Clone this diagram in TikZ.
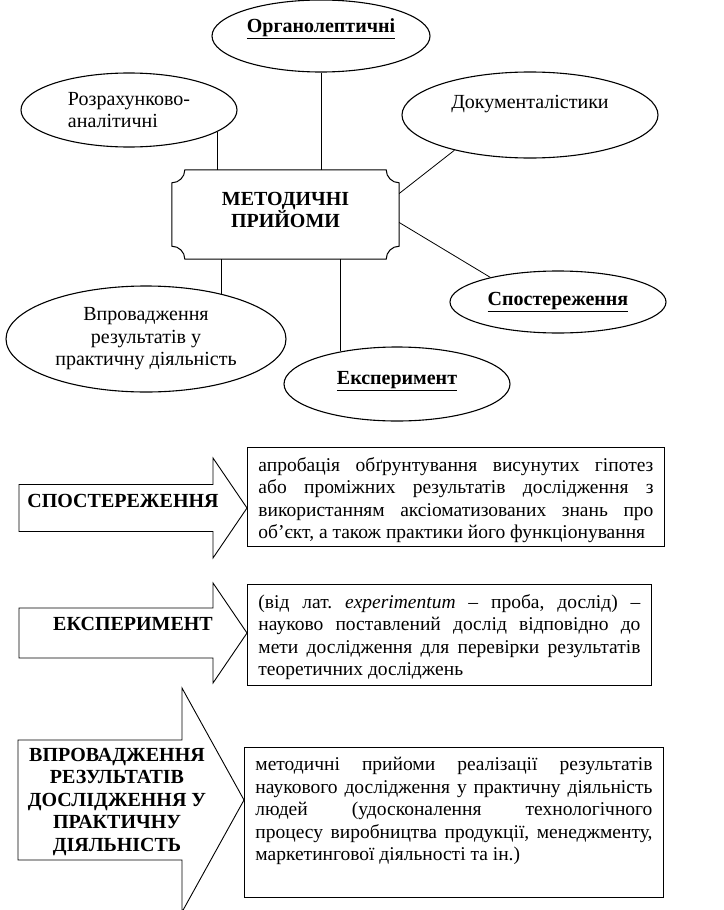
\documentclass[tikz,border=0pt]{standalone}
\usepackage{fontspec}
\setmainfont{Liberation Serif}
\usetikzlibrary{shapes.geometric}
\frenchspacing
\def\fs{\fontsize{20}{22.5}\selectfont}
\def\fd{\fontsize{19.5}{22.5}\selectfont}
\tikzset{
  oval/.style={draw,ellipse,line width=1.1pt,inner sep=0pt,font=\fs,align=center},
  link/.style={line width=0.8pt},
  descbox/.style={draw,line width=0.9pt,inner xsep=11pt,inner ysep=10pt,font=\fd,anchor=north west},
  headtxt/.style={font=\fs\bfseries,align=center,inner sep=0pt}
}
\newcommand{\Ul}[1]{\underline{\textbf{#1}}}
\newcommand{\Jl}[1]{\makebox[\linewidth][s]{#1}\\}
\newcommand{\Desc}[3]{\parbox[c][#1][t]{#2}{#3}}
% x left, x head base, x tip, y mid, shaft half, head half
\newcommand{\bigarrow}[6]{%
  \draw[line width=0.9pt] (#1,{#4-#5}) -- (#2,{#4-#5}) -- (#2,{#4-#6}) -- (#3,#4)
    -- (#2,{#4+#6}) -- (#2,{#4+#5}) -- (#1,{#4+#5}) -- cycle;
}

\begin{document}
\begin{tikzpicture}[x=1pt,y=-1pt]
\useasboundingbox (0,0) rectangle (723,910);

% --- centre plaque ---------------------------------------------------
\node[minimum width=227pt,minimum height=89pt,inner sep=0pt] (core) at (285.5,214.5) {};
\draw[line width=1pt]
  ([xshift=13pt]core.north west) -- ([xshift=-13pt]core.north east)
  .. controls ([xshift=-13pt,yshift=-7.2pt]core.north east) and ([xshift=-7.2pt,yshift=-13pt]core.north east) .. ([yshift=-13pt]core.north east)
  -- ([yshift=13pt]core.south east)
  .. controls ([xshift=-7.2pt,yshift=13pt]core.south east) and ([xshift=-13pt,yshift=7.2pt]core.south east) .. ([xshift=-13pt]core.south east)
  -- ([xshift=13pt]core.south west)
  .. controls ([xshift=13pt,yshift=7.2pt]core.south west) and ([xshift=7.2pt,yshift=13pt]core.south west) .. ([yshift=13pt]core.south west)
  -- ([yshift=-13pt]core.north west)
  .. controls ([xshift=7.2pt,yshift=-13pt]core.north west) and ([xshift=13pt,yshift=-7.2pt]core.north west) .. ([xshift=13pt]core.north west)
  -- cycle;
\node[headtxt] (core-t) at (285.5,210) {МЕТОДИЧНІ\\ПРИЙОМИ};

% --- method ovals ----------------------------------------------------
\node[oval,minimum width=218pt,minimum height=72pt] (org) at (321,36) {\raisebox{20pt}{\Ul{Органолептичні}}};
\node[oval,minimum width=216pt,minimum height=74pt,align=left] (rozr) at (129,110) {Розрахунково-\\аналітичні};
\node[oval,minimum width=256pt,minimum height=86pt] (docs) at (530,115) {\raisebox{26pt}{Документалістики}};
\node[oval,minimum width=216pt,minimum height=62pt] (spost) at (558,302) {\raisebox{6pt}{\Ul{Спостереження}}};
\node[oval,minimum width=280pt,minimum height=106pt] (vpr) at (146,339) {Впровадження\\результатів у\\практичну діяльність};
\node[oval,minimum width=226pt,minimum height=74pt] (eksp) at (397,384) {\raisebox{12pt}{\Ul{Експеримент}}};

% --- links -----------------------------------------------------------
\draw[link] (org.south) -- (org.south |- core.north);
\draw[link] (rozr.-14) -- (rozr.-14 |- core.north);
\draw[link] (docs.205) -- ([yshift=21pt]core.east);
\draw[link] ([yshift=-8pt]core.east) -- (spost.160);
\draw[link] (vpr.31) -- (vpr.31 |- core.south);
\draw[link] (eksp.150) -- (eksp.150 |- core.south);

% --- block arrows ----------------------------------------------------
\bigarrow{19}{213}{247}{508}{23.5}{50}
\bigarrow{19}{213}{247}{633}{25}{50}
\bigarrow{18}{182}{244}{800}{60}{112}
\node[headtxt] (a1) at (123,501) {СПОСТЕРЕЖЕННЯ};
\node[headtxt] (a2) at (133,624) {ЕКСПЕРИМЕНТ};
\node[headtxt] (a3) at (117,802) {ВПРОВАДЖЕННЯ\\РЕЗУЛЬТАТІВ\\ДОСЛІДЖЕННЯ У\\ПРАКТИЧНУ\\ДІЯЛЬНІСТЬ};

% --- definitions -----------------------------------------------------
\node[descbox] (d1) at (247,447) {\Desc{79pt}{395pt}{%
  \Jl{апробація обґрунтування висунутих гіпотез}
  \Jl{або проміжних результатів дослідження з}
  \Jl{використанням аксіоматизованих знань про}
  об’єкт, а також практики його функціонування}};
\node[descbox] (d2) at (247,584) {\Desc{81pt}{382pt}{%
  \Jl{(від лат. \textit{experimentum} – проба, дослід) –}
  \Jl{науково поставлений дослід відповідно до}
  \Jl{мети дослідження для перевірки результатів}
  теоретичних досліджень}};
\node[descbox] (d3) at (244,747) {\Desc{130pt}{397pt}{%
  \Jl{методичні прийоми реалізації результатів}
  \Jl{наукового дослідження у практичну діяльність}
  \Jl{людей (удосконалення технологічного}
  \Jl{процесу виробництва продукції, менеджменту,}
  маркетингової діяльності та ін.)}};

\end{tikzpicture}
\end{document}
